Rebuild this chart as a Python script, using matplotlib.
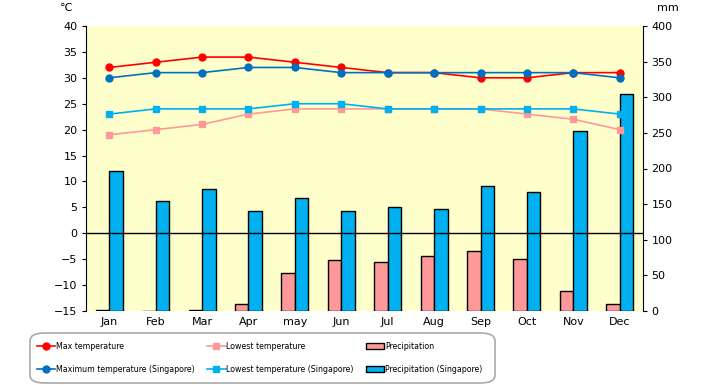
import matplotlib
matplotlib.use("Agg")
import matplotlib.pyplot as plt
from matplotlib.patches import FancyBboxPatch
import numpy as np

months = ["Jan", "Feb", "Mar", "Apr", "may", "Jun", "Jul", "Aug", "Sep", "Oct", "Nov", "Dec"]

max_temp = [32, 33, 34, 34, 33, 32, 31, 31, 30, 30, 31, 31]
low_temp = [19, 20, 21, 23, 24, 24, 24, 24, 24, 23, 22, 20]
max_temp_sg = [30, 31, 31, 32, 32, 31, 31, 31, 31, 31, 31, 30]
low_temp_sg = [23, 24, 24, 24, 25, 25, 24, 24, 24, 24, 24, 23]

precip = [2, 0, 2, 10, 53, 71, 69, 77, 84, 73, 28, 10]
precip_sg = [197, 154, 171, 141, 158, 140, 146, 143, 176, 167, 252, 304]

fig = plt.figure(figsize=(7.2, 3.85), dpi=100)
ax = fig.add_axes([86 / 720, 1 - 311 / 385, 557 / 720, 285 / 385])
ax2 = ax.twinx()

# bars go on the mm axis, lines on top on the temperature axis
ax.set_zorder(2)
ax2.set_zorder(1)
ax.patch.set_visible(False)
ax2.patch.set_visible(True)
ax2.patch.set_facecolor("#FFFFCC")

x = np.arange(len(months))
w = 0.29
b1 = ax2.bar(x - w / 2, precip, width=w, color="#FF9999", edgecolor="black", linewidth=1, label="Precipitation")
b2 = ax2.bar(x + w / 2, precip_sg, width=w, color="#00B0F0", edgecolor="black", linewidth=1, label="Precipitation (Singapore)")

ax.axhline(0, color="black", linewidth=1, zorder=1)
l1, = ax.plot(x, max_temp, color="#FF0000", marker="o", markersize=5, linewidth=1.2, label="Max temperature")
l3, = ax.plot(x, low_temp, color="#FF9999", marker="s", markersize=5, linewidth=1.2, label="Lowest temperature")
l2, = ax.plot(x, max_temp_sg, color="#0070C0", marker="o", markersize=5, linewidth=1.2, label="Maximum temperature (Singapore)")
l4, = ax.plot(x, low_temp_sg, color="#00B0F0", marker="s", markersize=5, linewidth=1.2, label="Lowest temperature (Singapore)")

ax.set_xlim(-0.5, 11.5)
ax.set_ylim(-15, 40)
ax.set_yticks(range(-15, 41, 5))
ax2.set_ylim(0, 400)
ax2.set_yticks(range(0, 401, 50))
ax.set_xticks(x)
ax.set_xticklabels(months)

for a in (ax, ax2):
    a.spines["top"].set_visible(False)
    a.spines["bottom"].set_visible(False)
    a.tick_params(axis="y", length=3, labelsize=8, pad=3)
    a.tick_params(axis="x", length=0, labelsize=8, pad=4)
ax.spines["right"].set_visible(False)
ax2.spines["left"].set_visible(False)

fig.text(60 / 720, 1 - 8 / 385, "℃", fontsize=8, ha="left", va="center")
fig.text(668 / 720, 1 - 8 / 385, "mm", fontsize=8, ha="center", va="center")

# rounded legend frame
box = FancyBboxPatch((30 / 720, 2 / 385), 465 / 720, 50 / 385,
                     boxstyle="round,pad=0,rounding_size=0.02", transform=fig.transFigure,
                     facecolor="white", edgecolor="#AAAAAA", linewidth=1.2)
fig.patches.append(box)

handles = [l1, l2, l3, l4, b1, b2]
leg = fig.legend(handles=handles, loc="center left", ncol=3,
                 bbox_to_anchor=(37 / 720, 27 / 385),
                 prop={"family": "DejaVu Sans", "stretch": "condensed", "size": 6.3},
                 frameon=False, handlelength=2.1, handleheight=0.6, handletextpad=0.1,
                 labelspacing=1.6, columnspacing=1.4, borderaxespad=0, borderpad=0)

fig.savefig("out.png", dpi=100)
